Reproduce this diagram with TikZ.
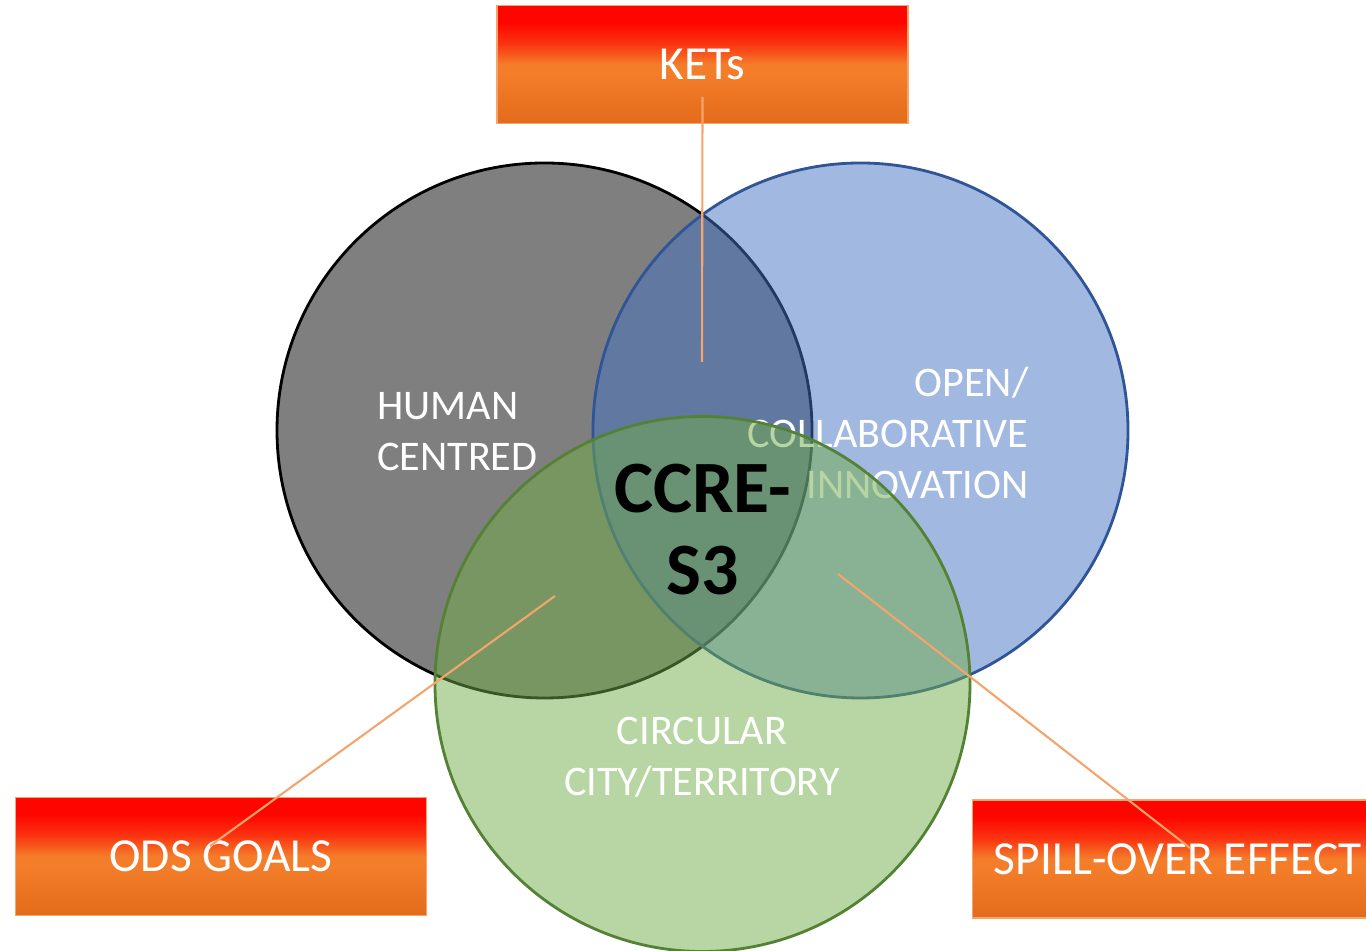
\documentclass[tikz,border=0pt]{standalone}
\usepackage{fontspec}
\setmainfont{Carlito}
\definecolor{humangray}{HTML}{7F7F7F}
\definecolor{openblue}{HTML}{4472C4}
\definecolor{openline}{HTML}{2F5597}
\definecolor{circgreen}{HTML}{70AD47}
\definecolor{circline}{HTML}{548235}
\definecolor{boxred}{HTML}{FF0500}
\definecolor{boxmid}{HTML}{F47D2A}
\definecolor{boxdark}{HTML}{E36C1C}
\definecolor{callout}{HTML}{F4A46C}
\pgfdeclareverticalshading{boxfade}{100bp}{color(0bp)=(boxdark); color(25bp)=(boxdark);
    color(46bp)=(boxmid); color(50bp)=(boxmid); color(59bp)=(boxred!62!boxmid);
    color(68bp)=(boxred); color(100bp)=(boxred)}
\tikzset{
    ring/.style={circle, minimum size=5.35cm, inner sep=0pt, line width=0.8pt},
    tag/.style={draw=callout, shade, shading=boxfade,
        minimum width=4.11cm, minimum height=1.18cm, text=white, font=\fontsize{13.5}{16}\selectfont},
    word/.style={text=white, inner sep=0pt, font=\fontsize{12}{14.5}\selectfont},
    lead/.style={draw=callout, line width=0.6pt}
}

\begin{document}
\begin{tikzpicture}
    \clip (0,0) rectangle (13.66,-9.51);
    \node[ring, fill=humangray, draw=black] (HC) at (5.445,-4.305) {};
    \node[ring, fill=openblue, fill opacity=0.5, draw=openline] (OC) at (8.605,-4.305) {};
    \node[word, align=left, anchor=west] (H) at (3.765,-4.315) {HUMAN\\CENTRED};
    \node[word, align=right, anchor=east] (O) at (10.29,-4.33) {OPEN/\\COLLABORATIVE\\INNOVATION};
    \node[ring, fill=circgreen, fill opacity=0.5, draw=circline] (CC) at (7.025,-6.84) {};
    \node[word, align=center] (C) at (7.02,-7.575) {CIRCULAR\\CITY/TERRITORY};
    \node[inner sep=0pt, align=center, font=\bfseries\fontsize{21}{23.3}\selectfont] (S) at (7.025,-5.295) {CCRE-\\S3};
    \node[tag] (K) at (7.025,-0.645) {KETs};
    \node[tag] (G) at (2.21,-8.565) {ODS GOALS};
    \node[tag] (E) at (11.78,-8.59) {SPILL-OVER EFFECT};
    \coordinate (KT) at (7.02,-3.62);
    \coordinate (GT) at (5.55,-5.96);
    \coordinate (ET) at (8.38,-5.74);
    \draw[lead] ([yshift=-0.325cm]K.center) -- (KT);
    \draw[lead] ([xshift=-0.11cm,yshift=0.105cm]G.center) -- (GT);
    \draw[lead] ([xshift=0.12cm,yshift=0.11cm]E.center) -- (ET);
\end{tikzpicture}
\end{document}
